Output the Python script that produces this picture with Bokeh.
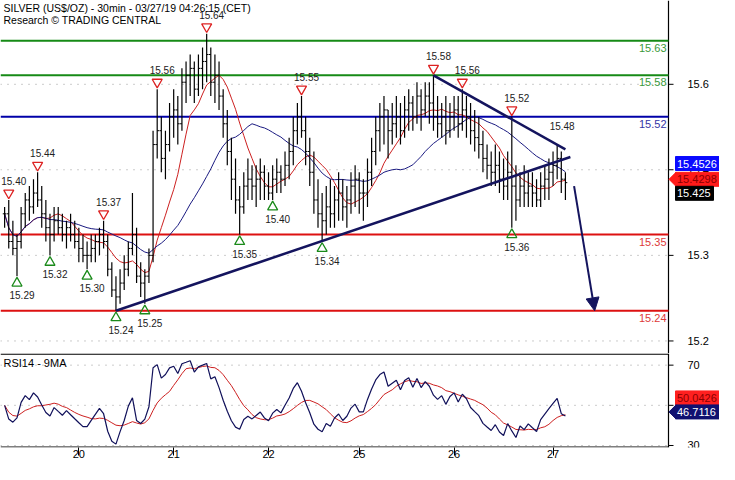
import pandas as pd
from bokeh.plotting import figure
from bokeh.layouts import column
from bokeh.models import (FixedTicker, Arrow, NormalHead, Range1d, ColumnDataSource)
from bokeh.embed import file_html
from bokeh.resources import INLINE
from bokeh.core.properties import value

# ---------------- data (hourly bars) ----------------
high = [15.39, 15.40, 15.37, 15.35, 15.39, 15.41, 15.42, 15.43, 15.44, 15.42, 15.40, 15.38, 15.39, 15.39, 15.38, 15.37, 15.38, 15.37,
        15.36, 15.35, 15.34, 15.35, 15.35, 15.36, 15.37, 15.35, 15.31, 15.29, 15.30, 15.32, 15.34, 15.41, 15.36, 15.31, 15.30, 15.33, 15.50, 15.56, 15.52, 15.50, 15.54,
        15.56, 15.55, 15.59, 15.60, 15.61, 15.60, 15.61, 15.62, 15.64, 15.62, 15.61, 15.60, 15.56, 15.53, 15.49, 15.46, 15.42, 15.44, 15.46, 15.45, 15.45, 15.46, 15.45,
        15.44, 15.45, 15.46, 15.45, 15.47, 15.49, 15.52, 15.54, 15.55, 15.52, 15.49, 15.47, 15.43, 15.41, 15.42, 15.43, 15.42, 15.44, 15.43, 15.42, 15.44, 15.45, 15.44,
        15.43, 15.46, 15.49, 15.52, 15.54, 15.55, 15.53, 15.54, 15.55, 15.54, 15.55, 15.56, 15.55, 15.57, 15.56, 15.57, 15.57, 15.58, 15.55, 15.54, 15.55, 15.54, 15.55,
        15.55, 15.56, 15.55, 15.54, 15.53, 15.52, 15.50, 15.48, 15.47, 15.48, 15.47, 15.46, 15.47, 15.52, 15.45, 15.44, 15.45, 15.44, 15.44, 15.43, 15.44, 15.45, 15.46,
        15.47, 15.48, 15.47, 15.44]
low = [15.36, 15.33, 15.32, 15.29, 15.33, 15.36, 15.37, 15.38, 15.39, 15.36, 15.34, 15.32, 15.34, 15.35, 15.34, 15.33, 15.34, 15.33,
       15.31, 15.31, 15.30, 15.31, 15.31, 15.32, 15.33, 15.29, 15.26, 15.24, 15.25, 15.27, 15.29, 15.32, 15.28, 15.26, 15.25, 15.28, 15.31, 15.46, 15.44, 15.43, 15.47,
       15.49, 15.48, 15.50, 15.54, 15.55, 15.54, 15.55, 15.56, 15.57, 15.55, 15.54, 15.53, 15.49, 15.45, 15.40, 15.38, 15.35, 15.38, 15.40, 15.40, 15.39, 15.40, 15.40,
       15.40, 15.40, 15.41, 15.41, 15.42, 15.43, 15.45, 15.48, 15.49, 15.45, 15.42, 15.38, 15.36, 15.34, 15.35, 15.36, 15.36, 15.37, 15.37, 15.36, 15.38, 15.39, 15.38,
       15.37, 15.39, 15.42, 15.45, 15.47, 15.48, 15.46, 15.48, 15.49, 15.48, 15.49, 15.50, 15.50, 15.51, 15.50, 15.52, 15.51, 15.50, 15.49, 15.49, 15.48, 15.49, 15.50,
       15.49, 15.50, 15.49, 15.48, 15.47, 15.46, 15.44, 15.43, 15.42, 15.42, 15.41, 15.40, 15.40, 15.36, 15.37, 15.39, 15.39, 15.39, 15.39, 15.39, 15.39, 15.40, 15.40,
       15.42, 15.43, 15.41, 15.40]
close = [15.38, 15.34, 15.33, 15.34, 15.38, 15.40, 15.39, 15.41, 15.40, 15.38, 15.36, 15.35, 15.37, 15.36, 15.35, 15.36, 15.35, 15.34,
         15.33, 15.32, 15.32, 15.33, 15.34, 15.35, 15.34, 15.30, 15.27, 15.26, 15.28, 15.30, 15.33, 15.35, 15.29, 15.28, 15.29, 15.32, 15.48, 15.50, 15.46, 15.48, 15.52,
         15.53, 15.51, 15.57, 15.58, 15.59, 15.56, 15.59, 15.60, 15.61, 15.57, 15.58, 15.55, 15.51, 15.47, 15.43, 15.40, 15.39, 15.42, 15.43, 15.42, 15.43, 15.44, 15.42,
         15.41, 15.43, 15.44, 15.43, 15.45, 15.47, 15.50, 15.52, 15.50, 15.47, 15.44, 15.40, 15.38, 15.37, 15.39, 15.38, 15.40, 15.41, 15.39, 15.40, 15.42, 15.43, 15.41,
         15.41, 15.44, 15.47, 15.50, 15.52, 15.53, 15.50, 15.51, 15.52, 15.50, 15.53, 15.54, 15.52, 15.55, 15.53, 15.55, 15.54, 15.52, 15.51, 15.52, 15.50, 15.52, 15.53,
         15.51, 15.53, 15.52, 15.50, 15.49, 15.48, 15.46, 15.45, 15.44, 15.45, 15.43, 15.42, 15.44, 15.42, 15.40, 15.42, 15.41, 15.42, 15.41, 15.40, 15.42, 15.43, 15.44,
         15.45, 15.46, 15.43, 15.425]
hours = list(range(1, len(close) + 1))

day_ticks = [19, 42, 65, 87, 110, 134]
day_labels = ["20", "21", "22", "25", "26", "27"]

price_tick_values = [15.567, 15.4436, 15.32, 15.1964]
price_tick_labels = ["15.6", "15.4", "15.3", "15.2"]
rsi_tick_values = [30, 50, 70]
rsi_tick_labels = ["30", "50", "70"]

levels = [15.63, 15.58, 15.52, 15.35, 15.24]
level_labels = ["15.63", "15.58", "15.52", "15.35", "15.24"]
level_line_colors = ["#168a16", "#168a16", "#0000a8", "#dd1111", "#dd1111"]
level_text_colors = ["#3a9a3a", "#3a9a3a", "#3535a5", "#dd3a3a", "#dd3a3a"]

peak_hours = [2, 9, 25, 38, 50, 73, 105, 112, 124]
peak_prices = [15.40, 15.44, 15.37, 15.56, 15.64, 15.55, 15.58, 15.56, 15.52]
peak_labels = ["15.40", "15.44", "15.37", "15.56", "15.64", "15.55", "15.58", "15.56", "15.52"]
extra_peak_hour = [135]
extra_peak_price = [15.48]
extra_peak_label = ["15.48"]

trough_hours = [4, 12, 21, 28, 35, 58, 66, 78, 124]
trough_prices = [15.29, 15.32, 15.30, 15.24, 15.25, 15.35, 15.40, 15.34, 15.36]
trough_labels = ["15.29", "15.32", "15.30", "15.24", "15.25", "15.35", "15.40", "15.34", "15.36"]

support_x = [28, 138.2]
support_y = [15.24, 15.462]
resist_x = [105, 137]
resist_y = [15.58, 15.473]
proj_x = [139.1, 144.1]
proj_y = [15.42, 15.24]

last_blue_ma = 15.4526
last_red_ma = 15.4298
last_price = 15.425
last_rsi_ma = 50.0426
last_rsi = 46.7116

# ---------------- geometry ----------------
W = 719
BR = 51
MAIN_H = 353
RSI_H = 110
RSI_BOTTOM = 16
X0, X1 = 0, 162
Y0, Y1 = 15.1783, 15.688
R0, R1 = 29.0, 75.8
pph = (W - BR) / (X1 - X0)
XR = X1 + BR / pph
ppu = MAIN_H / (Y1 - Y0)
ppr = (RSI_H - RSI_BOTTOM) / (R1 - R0)


def dxh(px):
    return px / pph


def dyp(px):
    return px / ppu


def dyr(px):
    return px / ppr


FONT = value("Liberation Sans")
AX = "#000000"

# ---------------- derived series ----------------
c = pd.Series(close)
opens = [close[0]] + close[:-1]
ma_fast = c.rolling(10, min_periods=1).mean()
ma_slow = c.rolling(25, min_periods=1).mean()
d = c.diff().fillna(0)
up = d.clip(lower=0)
dn = (-d).clip(lower=0)
# Wilder smoothing, started from a neutral state (equal average gain and loss)
seed = d.abs().mean() / 2
up.iloc[0] = seed
dn.iloc[0] = seed
au = up.ewm(alpha=1 / 14, adjust=False).mean()
ad = dn.ewm(alpha=1 / 14, adjust=False).mean()
rsi = 100 - 100 / (1 + au / ad)
rsi_ma = rsi.rolling(9, min_periods=1).mean()

src = ColumnDataSource(dict(
    h=hours, hl=[h - 0.45 for h in hours], hr=[h + 0.45 for h in hours],
    high=high, low=low, close=close, open=opens,
    fast=ma_fast.tolist(), slow=ma_slow.tolist(),
    rsi=rsi.tolist(), rsima=rsi_ma.tolist()))


def right_axis(f, ticks, labels, lo, hi, dy):
    """Price scale drawn at the right edge of the chart area."""
    f.segment(x0=[X0] * len(ticks), y0=ticks, x1=[X1] * len(ticks), y1=ticks,
              line_color="#999999", line_dash="1 6", line_width=1)
    f.segment(x0=[X1], y0=[lo], x1=[X1], y1=[hi], line_color=AX, line_width=1.2)
    f.segment(x0=[X1] * len(ticks), y0=ticks, x1=[X1 + dxh(5)] * len(ticks), y1=ticks,
              line_color=AX, line_width=1)
    f.text(x=[X1 + dxh(19)] * len(ticks), y=ticks, text=labels, text_align="left",
           text_baseline="middle", text_font=FONT, text_font_size="11px", text_color="black")


def value_box(f, y, text, fill, color, width_px, dy, arrow=False):
    f.quad(left=[X1 + dxh(7)], right=[X1 + dxh(7 + width_px)], bottom=[y - dy(7)], top=[y + dy(7)],
           fill_color=fill, line_color=fill)
    if arrow:
        f.patch(x=[X1 + dxh(0.5), X1 + dxh(7.5), X1 + dxh(7.5)], y=[y, y + dy(7), y - dy(7)],
                fill_color=fill, line_color=fill)
    f.text(x=[X1 + dxh(8.5)], y=[y], text=[text], text_align="left", text_baseline="middle",
           text_font=FONT, text_font_size="11px", text_color=color)


# ---------------- main price panel ----------------
p = figure(width=W, height=MAIN_H, x_range=Range1d(X0, XR), y_range=Range1d(Y0, Y1),
           output_backend="svg", toolbar_location=None, x_axis_location=None, y_axis_location=None,
           min_border_left=0, min_border_right=0, min_border_top=0, min_border_bottom=0)
p.outline_line_color = None
p.grid.visible = False

right_axis(p, price_tick_values, price_tick_labels, Y0, Y1, dyp)

p.segment(x0=[X0] * len(levels), y0=levels, x1=[X1] * len(levels), y1=levels,
          line_color=level_line_colors, line_width=2)
p.text(x=[X1 - dxh(2)] * len(levels), y=[v - dyp(3) for v in levels], text=level_labels,
       text_color=level_text_colors, text_align="right", text_baseline="top",
       text_font=FONT, text_font_size="11px")

p.line("h", "fast", source=src, line_color="#cc2020", line_width=1)
p.line("h", "slow", source=src, line_color="#1a1a80", line_width=1)

p.segment(x0="h", y0="low", x1="h", y1="high", source=src, line_color="black", line_width=1.2)
p.segment(x0="hl", y0="open", x1="h", y1="open", source=src, line_color="black", line_width=1)
p.segment(x0="h", y0="close", x1="hr", y1="close", source=src, line_color="black", line_width=1)

p.line(support_x, support_y, line_color="#14145e", line_width=2.5)
p.line(resist_x, resist_y, line_color="#14145e", line_width=2.5)
p.add_layout(Arrow(end=NormalHead(size=13, fill_color="#14145e", line_color="#14145e"),
                   x_start=proj_x[0], y_start=proj_y[0], x_end=proj_x[1], y_end=proj_y[1],
                   line_color="#14145e", line_width=2))

p.scatter(peak_hours, [v + dyp(7) for v in peak_prices], marker="inverted_triangle", size=10,
          fill_color=None, line_color="#dd2222", line_width=1.3)
p.text(x=[h + dxh(5) for h in peak_hours + extra_peak_hour],
       y=[v + dyp(15) for v in peak_prices + extra_peak_price],
       text=peak_labels + extra_peak_label, text_align="center", text_baseline="bottom",
       text_font=FONT, text_font_size="10px", text_color="#222222")
p.scatter(trough_hours, [v - dyp(7) for v in trough_prices], marker="triangle", size=10,
          fill_color=None, line_color="#1a8a1a", line_width=1.3)
p.text(x=[h + dxh(5) for h in trough_hours], y=[v - dyp(15) for v in trough_prices],
       text=trough_labels, text_align="center", text_baseline="top",
       text_font=FONT, text_font_size="10px", text_color="#222222")

p.text(x=[X0 + dxh(3)] * 2, y=[Y1 - dyp(1), Y1 - dyp(13)],
       text=["SILVER (US$/OZ) - 30min - 03/27/19 04:26:15 (CET)", "Research \u00a9 TRADING CENTRAL"],
       text_align="left", text_baseline="top", text_font=FONT, text_font_size="10.5px",
       text_color="black")

value_box(p, last_blue_ma, f"{last_blue_ma:.4f}", "#0a0aff", "white", 44, dyp)
value_box(p, last_red_ma, f"{last_red_ma:.4f}", "#ff1a1a", "#8a0000", 44, dyp, arrow=True)
value_box(p, last_red_ma - dyp(14), f"{last_price:.3f}", "black", "white", 38, dyp)

# ---------------- RSI panel ----------------
r = figure(width=W, height=RSI_H, x_range=p.x_range, y_range=Range1d(R0, R1),
           output_backend="svg", toolbar_location=None, y_axis_location=None,
           min_border_left=0, min_border_right=0, min_border_top=0, min_border_bottom=RSI_BOTTOM)
r.outline_line_color = None
r.grid.visible = False
rx = r.xaxis[0]
rx.ticker = FixedTicker(ticks=day_ticks)
rx.major_label_overrides = {t: s for t, s in zip(day_ticks, day_labels)}
rx.axis_line_color = None
rx.major_tick_out = 8
rx.major_tick_in = 0
rx.minor_tick_line_color = None
rx.major_label_standoff = -6
rx.major_label_text_align = "left"
rx.major_label_text_font = "Liberation Sans"
rx.major_label_text_font_size = "11px"
rx.major_label_text_color = "black"

right_axis(r, rsi_tick_values, rsi_tick_labels, R0, R1, dyr)
r.segment(x0=[X0, X0], y0=[R1 - dyr(0.6), R0 + dyr(0.5)], x1=[X1, X1], y1=[R1 - dyr(0.6), R0 + dyr(0.5)],
          line_color=AX, line_width=1.2)

r.line("h", "rsima", source=src, line_color="#cc2020", line_width=1)
r.line("h", "rsi", source=src, line_color="#10105a", line_width=1.2)
r.text(x=[X0 + dxh(3)], y=[R1 - dyr(3)], text=["RSI14 - 9MA"], text_align="left",
       text_baseline="top", text_font=FONT, text_font_size="11px", text_color="black")

value_box(r, last_rsi + dyr(14), f"{last_rsi_ma:.4f}", "#ff2020", "#8a0000", 44, dyr)
value_box(r, last_rsi, f"{last_rsi:.4f}", "#101070", "white", 44, dyr, arrow=True)

layout = column(p, r, spacing=0)
open("out.html", "w").write(file_html(layout, INLINE))
